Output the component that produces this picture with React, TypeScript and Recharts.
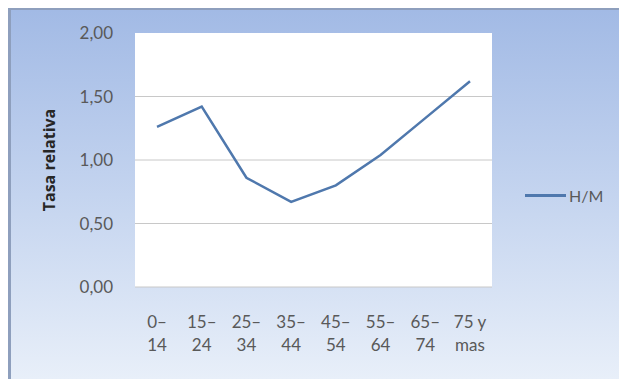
import { LineChart, Line, XAxis, YAxis, CartesianGrid } from "recharts";

const categories = ["0–|14", "15–|24", "25–|34", "35–|44", "45–|54", "55–|64", "65–|74", "75 y|mas"];
const ratioHM = [1.26, 1.42, 0.86, 0.67, 0.8, 1.04, 1.33, 1.62];
const yTicks = [0, 0.5, 1, 1.5, 2];

const data = categories.map((c, i) => ({ grupo: c, hm: ratioHM[i] }));

const FONT = "Lato, 'Open Sans', sans-serif";
const LINE = "#4f78ad";

const fmt = (v: number) => v.toFixed(2).replace(".", ",");

// two-line category label, split on "|"
function CatTick(props: any) {
  const { x, y, payload } = props;
  const [a, b] = String(payload.value).split("|");
  return (
    <text x={x} y={y} textAnchor="middle" fill="#595959" fontSize={17} fontFamily={FONT}>
      <tspan x={x} dy={33}>{a}</tspan>
      <tspan x={x} dy={23}>{b}</tspan>
    </text>
  );
}

export default function App() {
  return (
    <div
      style={{
        position: "relative",
        width: 614,
        height: 371,
        boxSizing: "border-box",
        borderLeft: "3px solid #8e9fbd",
        borderTop: "2px solid #8e9fbd",
        borderRight: "1px solid #d5deee",
        background: "linear-gradient(to bottom, #a2bae5 0%, #c4d4ef 50%, #e8eff9 100%)",
      }}
    >
      <div style={{ position: "absolute", left: -3, top: -2 }}>
        <LineChart width={614} height={371} data={data} margin={{ top: 25, right: 130, bottom: 42, left: 67 }}>
          <CartesianGrid vertical={false} fill="#ffffff" stroke="#c8c8c8" horizontalValues={[0, 0.5, 1, 1.5]} />
          <XAxis
            dataKey="grupo"
            height={50}
            axisLine={false}
            tickLine={false}
            interval={0}
            padding={{ left: 22, right: 22 }}
            tick={<CatTick />}
          />
          <YAxis
            width={60}
            domain={[0, 2]}
            ticks={yTicks}
            axisLine={false}
            tickLine={false}
            tickSize={0}
            tickMargin={22}
            tickFormatter={fmt}
            tick={{ fill: "#595959", fontSize: 17, fontFamily: FONT }}
            label={{
              value: "Tasa relativa",
              angle: -90,
              position: "insideLeft",
              offset: -26,
              style: { textAnchor: "middle", fill: "#262626", fontWeight: "bold", fontSize: 16, fontFamily: "'Open Sans', sans-serif" },
            }}
          />
          <Line type="linear" dataKey="hm" name="H/M" stroke={LINE} strokeWidth={2.5} dot={false} isAnimationActive={false} />
        </LineChart>
      </div>
      <div
        style={{
          position: "absolute",
          left: 514,
          top: 176,
          display: "flex",
          alignItems: "center",
          fontFamily: FONT,
          fontSize: 16,
          color: "#595959",
        }}
      >
        <span style={{ display: "inline-block", width: 41, height: 3, background: LINE, marginRight: 3 }} />
        H/M
      </div>
    </div>
  );
}
